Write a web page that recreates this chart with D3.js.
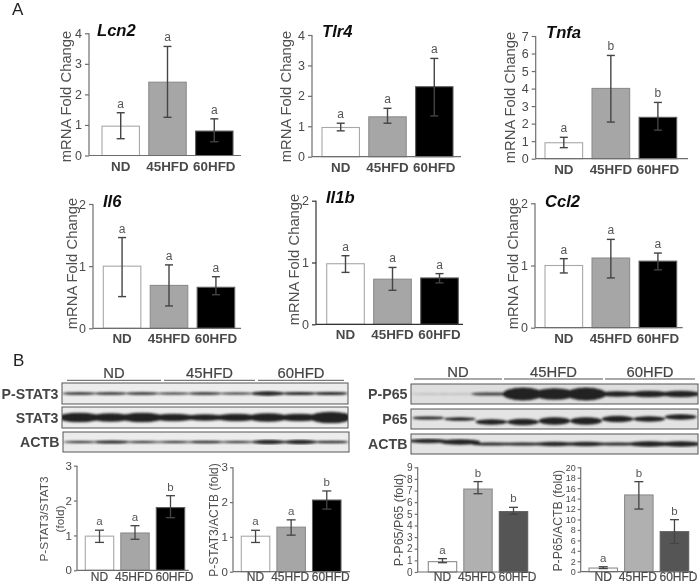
<!DOCTYPE html>
<html><head><meta charset="utf-8">
<script src="https://cdn.jsdelivr.net/npm/d3@7/dist/d3.min.js"></script>
<style>html,body{margin:0;background:#fff}svg{display:block;font-family:"Liberation Sans",Arial,sans-serif}</style>
</head><body><div id="c"></div>
<script>
// ---- data ----
const groups = ["ND","45HFD","60HFD"];
const lcn2Mean=[0.96,2.40,0.80], lcn2Hi=[1.40,3.57,1.20], lcn2Lo=[0.55,1.25,0.45], lcn2Sig=["a","a","a"];
const tlr4Mean=[0.96,1.31,2.30], tlr4Hi=[1.10,1.59,3.23], tlr4Lo=[0.85,1.10,1.34], tlr4Sig=["a","a","a"];
const tnfaMean=[0.91,4.01,2.36], tnfaHi=[1.22,5.89,3.21], tnfaLo=[0.63,2.09,1.63], tnfaSig=["a","b","b"];
const il6Mean=[1.00,0.69,0.66], il6Hi=[1.46,1.02,0.83], il6Lo=[0.51,0.36,0.54], il6Sig=["a","a","a"];
const il1bMean=[0.98,0.73,0.75], il1bHi=[1.11,0.92,0.82], il1bLo=[0.84,0.55,0.67], il1bSig=["a","a","a"];
const ccl2Mean=[1.00,1.12,1.07], ccl2Hi=[1.11,1.42,1.20], ccl2Lo=[0.88,0.80,0.93], ccl2Sig=["a","a","a"];
const pstatMean=[0.98,1.07,1.80], pstatHi=[1.15,1.28,2.14], pstatLo=[0.80,0.89,1.51], pstatSig=["a","a","b"];
const pstatActbMean=[1.02,1.28,2.06], pstatActbHi=[1.19,1.49,2.32], pstatActbLo=[0.84,1.05,1.80], pstatActbSig=["a","a","b"];
const pp65Mean=[0.89,7.13,5.19], pp65Hi=[1.15,7.77,5.56], pp65Lo=[0.80,6.73,4.96], pp65Sig=["a","b","b"];
const pp65ActbMean=[0.70,14.7,7.67], pp65ActbHi=[0.95,17.25,9.97], pp65ActbLo=[0.60,12.0,5.40], pp65ActbSig=["a","b","b"];
const ticks4=[0,1,2,3,4], ticks7=[0,1,2,3,4,5,6,7], ticks2=[0,1,2], ticks3=[0,1,2,3], ticks9=[0,1,2,3,4,5,6,7,8,9], ticks20=[0,2,4,6,8,10,12,14,16,18,20];
// blots: band thickness and darkness for nine lanes
const bandPStat3=[2.5,2.5,2.5,2,2.5,2,4,3,3], bandStat3=[9,8,9,7,6,7,8,7,11], bandActbL=[2,3,2,2,2.5,2,4,4,2.5];
const bandPP65=[1.5,1.5,3,12,11,12,5,6,6], bandP65=[3,3.5,5,6,7,7,6,5,5], bandActbR=[4,5,3,3,4,4,3,5,5];
const inkPP65=[.18,.18,.85,1,1,1,1,1,1], inkFull=[1,1,1,1,1,1,1,1,1];
const shiftP65=[-1,0,3,3,2,2,0,0,-2], shiftActbR=[-3,-2,0,0,0,0,0,0,0], shiftNone=[0,0,0,0,0,0,0,0,0];

// ---- layout ----
const W=700,H=584;
const svg=d3.select("#c").append("svg").attr("width",W).attr("height",H);
const defs=svg.append("defs");
defs.append("filter").attr("id","soft").append("feGaussianBlur").attr("stdDeviation",0.3);
defs.append("filter").attr("id","ink").append("feGaussianBlur").attr("stdDeviation",0.9);

const fillA=["#ffffff","#a6a6a6","#000000"], strokeA=["#a8a8a8","#8c8c8c","#5e5e5e"];
const fillB=["#ffffff","#b0b0b0","#555555"], strokeB=["#8c8c8c","#8c8c8c","#5e5e5e"];
const art=svg.append("g").attr("filter","url(#soft)");

function bars(o){
  const g=art.append("g");
  const x=d3.scaleBand().domain(groups).range(o.xr).paddingInner(0.2);
  const y=d3.scaleLinear().domain([0,o.ticks[o.ticks.length-1]]).range(o.yr);
  const ink=o.axisColor||"#6e6e6e";
  const fills=o.fills||fillA, strokes=o.strokes||strokeA;
  g.selectAll("rect.bar").data(groups).join("rect")
    .attr("x",d=>x(d)).attr("width",x.bandwidth())
    .attr("y",(d,i)=>y(o.mean[i])).attr("height",(d,i)=>y(0)-y(o.mean[i]))
    .attr("fill",(d,i)=>fills[i]).attr("stroke",(d,i)=>strokes[i]).attr("stroke-width",1.1);
  const err=g.append("g").attr("stroke","#444").attr("stroke-width",o.small?1.3:1.4).attr("fill","none");
  const cx=d=>x(d)+x.bandwidth()/2, cap=o.small?4.5:4;
  err.selectAll("line.v").data(groups).join("line").attr("class","v").attr("x1",cx).attr("x2",cx)
    .attr("y1",(d,i)=>y(o.hi[i])).attr("y2",(d,i)=>y(o.lo[i]));
  err.selectAll("line.t").data(groups).join("line").attr("class","t").attr("x1",d=>cx(d)-cap).attr("x2",d=>cx(d)+cap)
    .attr("y1",(d,i)=>y(o.hi[i])).attr("y2",(d,i)=>y(o.hi[i]));
  err.selectAll("line.b").data(groups).join("line").attr("class","b").attr("x1",d=>cx(d)-cap).attr("x2",d=>cx(d)+cap)
    .attr("y1",(d,i)=>y(o.lo[i])).attr("y2",(d,i)=>y(o.lo[i]));
  g.selectAll("text.sig").data(groups).join("text").attr("class","sig")
    .attr("x",cx).attr("y",(d,i)=>y(o.hi[i])-5).attr("text-anchor","middle")
    .attr("font-size",o.small?11.5:12).attr("fill","#555").text((d,i)=>o.sig[i]);
  // y axis
  const ax=g.append("g").attr("transform",`translate(${o.ax},0)`)
    .call(d3.axisLeft(y).tickValues(o.ticks).tickFormat(d3.format("d")).tickSize(o.small?3:4).tickPadding(o.small?2:3));
  ax.selectAll("path,line").attr("stroke",ink).attr("stroke-width",1.2);
  ax.select("path").attr("d",`M0,${o.yr[1]}V${o.yr[0]}`);
  ax.selectAll("text").attr("font-size",o.tfs||(o.small?11.5:12.5)).attr("fill","#4a4a4a").attr("font-family","inherit");
  // x axis
  const xa=g.append("g").attr("transform",`translate(0,${o.yr[0]})`)
    .call(d3.axisBottom(x).tickSize(0).tickPadding(o.xPad!==undefined?o.xPad:5.5));
  xa.select("path").attr("stroke",ink).attr("stroke-width",1.2).attr("d",`M${o.ax},0H${o.xEnd}`);
  xa.selectAll("text").attr("font-size",o.small?12:13.4).attr("font-weight",o.small?"normal":"bold")
    .attr("fill","#4a4a4a").attr("font-family","inherit")
    .attr("stroke",o.small?"#4a4a4a":"none").attr("stroke-width",0.2)
    .attr("dx",(d,i)=>o.labelDx?o.labelDx[i]:0);
  // y title
  o.ylabel.forEach((t,i)=>{
    g.append("text").attr("transform",`translate(${o.lx+i*16},${o.ly}) rotate(-90)`)
      .attr("text-anchor","middle").attr("font-size",o.lfs||14.8).attr("fill","#505050").text(t);
  });
  if(o.title) g.append("text").attr("x",o.tx).attr("y",o.ty).attr("font-size",16.6)
    .attr("font-weight","bold").attr("font-style","italic").attr("fill","#111").text(o.title);
}
const mrna=["mRNA Fold Change"];
bars({title:"Lcn2",tx:97,ty:35.5,mean:lcn2Mean,hi:lcn2Hi,lo:lcn2Lo,sig:lcn2Sig,ticks:ticks4,xr:[102,233],yr:[155.5,33.3],ax:89,xEnd:241,ylabel:mrna,lx:71,ly:96.5});
bars({title:"Tlr4",tx:322,ty:37,mean:tlr4Mean,hi:tlr4Hi,lo:tlr4Lo,sig:tlr4Sig,ticks:ticks4,xr:[322,453],yr:[156.7,35],ax:312,xEnd:461,ylabel:mrna,lx:291,ly:96.5});
bars({title:"Tnfa",tx:546,ty:37.5,mean:tnfaMean,hi:tnfaHi,lo:tnfaLo,sig:tnfaSig,ticks:ticks7,xr:[545,676.7],yr:[158.7,36],ax:535.7,xEnd:688,ylabel:mrna,lx:514.5,ly:97.5});
bars({title:"Il6",tx:103,ty:207,mean:il6Mean,hi:il6Hi,lo:il6Lo,sig:il6Sig,ticks:ticks2,xr:[103.3,234.7],yr:[328.3,204],ax:93,xEnd:241,ylabel:mrna,lx:77,ly:263.5});
bars({title:"Il1b",tx:326,ty:203,mean:il1bMean,hi:il1bHi,lo:il1bLo,sig:il1bSig,ticks:ticks2,xr:[326.7,458.3],yr:[324.3,200.7],ax:316,xEnd:463,ylabel:mrna,lx:298.5,ly:259.5,axisColor:"#333"});
bars({title:"Ccl2",tx:545,ty:207,mean:ccl2Mean,hi:ccl2Hi,lo:ccl2Lo,sig:ccl2Sig,ticks:ticks2,xr:[545,676.7],yr:[327.7,203.3],ax:535,xEnd:682.7,ylabel:mrna,lx:518,ly:263.5});

const smallA={small:true,fills:fillA,strokes:strokeA};
bars({...smallA,mean:pstatMean,hi:pstatHi,lo:pstatLo,sig:pstatSig,ticks:ticks3,xr:[85.3,184.7],yr:[570.3,465.7],ax:77,xEnd:188.7,ylabel:["P-STAT3/STAT3","(fold)"],lx:48,ly:519,lfs:11.8,labelDx:[0,-1,4],xPad:2.1});
bars({...smallA,mean:pstatActbMean,hi:pstatActbHi,lo:pstatActbLo,sig:pstatActbSig,ticks:ticks3,xr:[241.3,341],yr:[571.7,467.3],ax:233,xEnd:350,ylabel:["P-STAT3/ACTB (fold)"],lx:218,ly:520,lfs:12,labelDx:[0,-1,4],xPad:0.8});
const smallB={small:true,fills:fillB,strokes:strokeB};
bars({...smallB,mean:pp65Mean,hi:pp65Hi,lo:pp65Lo,sig:pp65Sig,ticks:ticks9,tfs:10.1,xr:[428.3,527.7],yr:[572,467.3],ax:417.7,xEnd:531,ylabel:["P-P65/P65 (fold)"],lx:403,ly:520,lfs:12.5,labelDx:[0,-1,4],xPad:0.5});
bars({...smallB,mean:pp65ActbMean,hi:pp65ActbHi,lo:pp65ActbLo,sig:pp65ActbSig,ticks:ticks20,tfs:9,xr:[589,688.7],yr:[571.7,467.3],ax:580.7,xEnd:693,ylabel:["P-P65/ACTB (fold)"],lx:562,ly:520.7,lfs:12.3,labelDx:[0,-1,4],xPad:0.8});

// panel letters
art.append("text").attr("x",12).attr("y",15).attr("font-size",17).attr("fill","#222").text("A");
art.append("text").attr("x",13).attr("y",366).attr("font-size",17).attr("fill","#222").text("B");

// ---- western blots ----
const lanes=d3.range(9);
let clipN=0;
function blot(o){
  const g=art.append("g");
  const id="cl"+(clipN++);
  defs.append("clipPath").attr("id",id).append("rect").attr("x",o.x0).attr("y",o.y0).attr("width",o.x1-o.x0).attr("height",o.y1-o.y0);
  const x=d3.scaleBand().domain(lanes).range([o.x0+2,o.x1-2]).paddingInner(0.03);
  const r=d3.scaleLinear().domain([0,12]).range([0,6.4]);
  g.append("rect").attr("x",o.x0).attr("y",o.y0).attr("width",o.x1-o.x0).attr("height",o.y1-o.y0).attr("fill",o.bg||"#ececec");
  g.append("g").attr("clip-path",`url(#${id})`).append("g").attr("filter","url(#ink)")
    .selectAll("ellipse").data(lanes).join("ellipse")
    .attr("cx",d=>x(d)+x.bandwidth()/2).attr("cy",d=>(o.y0+o.y1)/2+o.shift[d])
    .attr("rx",x.bandwidth()*(o.spread||0.52)).attr("ry",d=>r(o.band[d]))
    .attr("fill","#222").attr("opacity",d=>o.ink[d]);
  g.append("rect").attr("x",o.x0).attr("y",o.y0).attr("width",o.x1-o.x0).attr("height",o.y1-o.y0)
    .attr("fill","none").attr("stroke","#555").attr("stroke-width",1);
  g.append("text").attr("x",o.x0-3.5).attr("y",(o.y0+o.y1)/2+5).attr("text-anchor","end").attr("font-size",14.2)
    .attr("font-weight","bold").attr("fill","#444").text(o.label);
}
blot({label:"P-STAT3",x0:62,x1:348,y0:383,y1:404,band:bandPStat3,ink:inkFull,shift:shiftNone,spread:.56});
blot({label:"STAT3",x0:62,x1:348,y0:407,y1:428,band:bandStat3,ink:inkFull,shift:shiftNone,spread:.68});
blot({label:"ACTB",x0:63,x1:349,y0:432,y1:452,band:bandActbL,ink:inkFull,shift:shiftNone,spread:.56});
blot({label:"P-P65",x0:411,x1:698,y0:384,y1:404,band:bandPP65,ink:inkPP65,shift:shiftNone,bg:"#dedede",spread:.66});
blot({label:"P65",x0:411,x1:698,y0:409,y1:429,band:bandP65,ink:inkFull,shift:shiftP65,bg:"#e4e4e4",spread:.52});
blot({label:"ACTB",x0:411,x1:698,y0:434,y1:454,band:bandActbR,ink:inkFull,shift:shiftActbR,bg:"#e4e4e4",spread:.66});

// group headers over the blots
function header(spans,yText,yLine){
  const g=art.append("g");
  g.selectAll("line").data(groups).join("line").attr("x1",(d,i)=>spans[i][0]).attr("x2",(d,i)=>spans[i][1])
    .attr("y1",yLine).attr("y2",yLine).attr("stroke","#555").attr("stroke-width",1);
  g.selectAll("text").data(groups).join("text").attr("x",(d,i)=>(spans[i][0]+spans[i][1])/2).attr("y",yText)
    .attr("text-anchor","middle").attr("font-size",14.8).attr("fill","#444").attr("stroke","#444").attr("stroke-width",0.2).text(d=>d);
}
header([[67,161],[164,255],[258,344]],377.7,380.3);
header([[414,502],[504,603],[605,695]],377,379);
</script></body></html>
